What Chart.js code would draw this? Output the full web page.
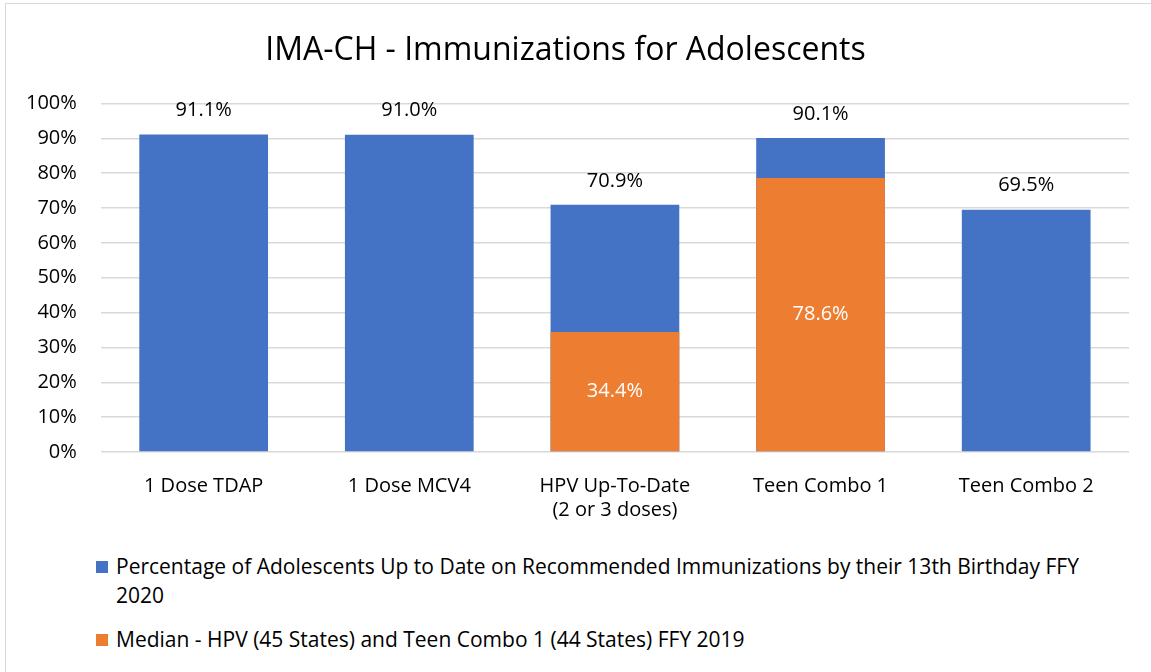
<!DOCTYPE html>
<html>
<head>
<meta charset="utf-8">
<script src="https://cdn.jsdelivr.net/npm/chart.js@4.4.1/dist/chart.umd.min.js"></script>
<style>
  html, body { margin: 0; padding: 0; background: #fff; overflow: hidden; }
  #frame { position: absolute; left: 5px; top: 3px; width: 1160px; height: 680px; border: 1px solid #d9d9d9; box-sizing: border-box; }
  #wrap { position: absolute; left: 0; top: 0; width: 1151px; height: 550px; }
  #legend { position: absolute; left: 96px; top: 552px; width: 995px; font-family: "Open Sans", sans-serif; font-size: 21px; color: #000; }
  .item { position: relative; padding-left: 20px; line-height: 29px; margin-bottom: 15px; }
  .box { position: absolute; left: 0; top: 9px; width: 12px; height: 12px; }
</style>
</head>
<body>
<div id="frame"></div>
<div id="wrap"><canvas id="imaChart"></canvas></div>
<div id="legend"></div>
<script>
const categories = ['1 Dose TDAP', '1 Dose MCV4', ['HPV Up-To-Date', '(2 or 3 doses)'], 'Teen Combo 1', 'Teen Combo 2'];
const rate2020 = [91.1, 91.0, 70.9, 90.1, 69.5];
const median2019 = [null, null, 34.4, 78.6, null];
const seriesNames = [
    'Percentage of Adolescents Up to Date on Recommended Immunizations by their 13th Birthday FFY 2020',
    'Median - HPV (45 States) and Teen Combo 1 (44 States) FFY 2019'
];
const yTicks = [0, 10, 20, 30, 40, 50, 60, 70, 80, 90, 100];

const blue = '#4472c4';
const orange = '#ed7d31';
const fontFamily = '"Open Sans", sans-serif';

// value labels: blue above the bar, orange in the middle of the bar
const valueLabels = {
    id: 'valueLabels',
    afterDatasetsDraw(chart) {
        let ctx = chart.ctx;
        ctx.save();
        ctx.font = '20px ' + fontFamily;
        ctx.textAlign = 'center';
        ctx.textBaseline = 'middle';
        chart.data.datasets.forEach((ds, i) => {
            let meta = chart.getDatasetMeta(i);
            meta.data.forEach((bar, j) => {
                let v = ds.data[j];
                if (v === null) return;
                let text = v.toFixed(1) + '%';
                if (i === 0) {
                    ctx.fillStyle = '#000';
                    ctx.fillText(text, bar.x, bar.y - 24);
                } else {
                    ctx.fillStyle = '#fff';
                    ctx.fillText(text, bar.x, (bar.y + bar.base) / 2);
                }
            });
        });
        ctx.restore();
    }
};

let ctx = document.getElementById('imaChart');
let chart = new Chart(ctx, {
    type: 'bar',
    data: {
        labels: categories,
        datasets: [{
            label: seriesNames[0],
            data: rate2020,
            backgroundColor: blue,
            order: 2
        }, {
            label: seriesNames[1],
            data: median2019,
            backgroundColor: orange,
            order: 1
        }]
    },
    options: {
        responsive: true,
        maintainAspectRatio: false,
        animation: false,
        grouped: false,
        barPercentage: 0.626,
        categoryPercentage: 1,
        layout: { padding: { left: 2, right: 22, top: 23, bottom: 6 } },
        plugins: {
            legend: { display: false },
            tooltip: { enabled: false },
            title: {
                display: true,
                text: 'IMA-CH - Immunizations for Adolescents',
                color: '#000',
                font: { family: fontFamily, size: 32, weight: 'normal' },
                padding: { top: 9, bottom: 33 }
            }
        },
        scales: {
            x: {
                grid: { display: false, drawTicks: false },
                border: { display: false },
                ticks: {
                    color: '#000',
                    padding: 22,
                    font: { family: fontFamily, size: 20 },
                    maxRotation: 0
                }
            },
            y: {
                min: 0,
                max: 100,
                afterBuildTicks: axis => { axis.ticks = yTicks.map(v => ({ value: v })); },
                grid: { color: '#d9d9d9', lineWidth: 1.5, drawTicks: false },
                border: { display: false },
                ticks: {
                    color: '#000',
                    padding: 24,
                    font: { family: fontFamily, size: 20 },
                    callback: v => v + '%'
                }
            }
        }
    },
    plugins: [valueLabels]
});

// legend below the chart, text wraps like the original
let legend = document.getElementById('legend');
chart.data.datasets.forEach(ds => {
    legend.innerHTML +=
    `<div class="item"><span class="box" style="background:${ds.backgroundColor}"></span>${ds.label}</div>`;
});
</script>
</body>
</html>
